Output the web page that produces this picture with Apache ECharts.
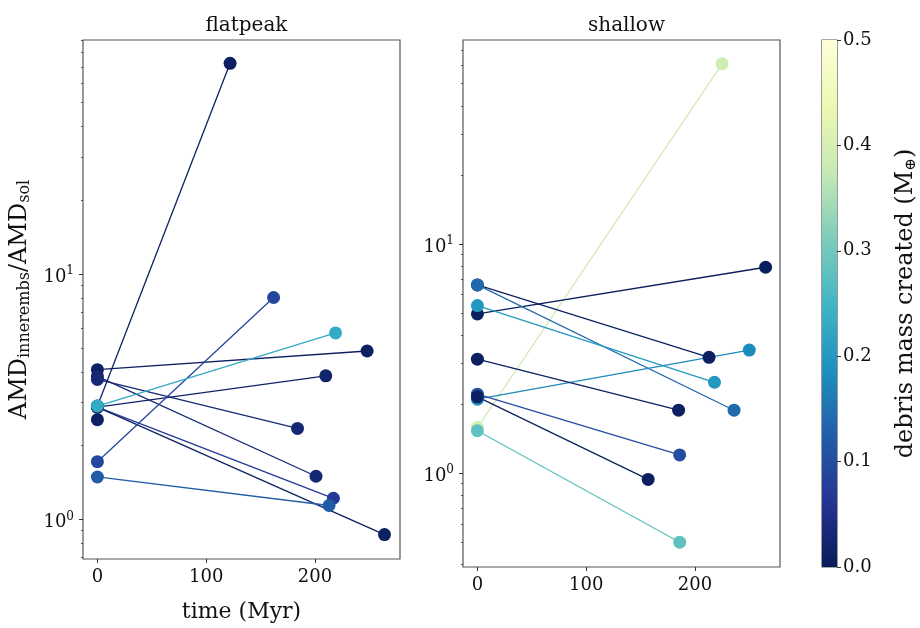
<!DOCTYPE html>
<html>
<head>
<meta charset="utf-8">
<style>html,body{margin:0;padding:0;background:#fff}#c{width:920px;height:628px}</style>
<script src="https://cdn.jsdelivr.net/npm/echarts@6/dist/echarts.min.js"></script>
</head>
<body>
<div id="c"></div>
<script>
// ---- data ----
// flatpeak panel: each run starts at time 0 and ends at endTime
const flatStartAMD = [4.08, 3.83, 3.72, 2.90, 2.87, 2.87, 2.87, 1.72, 1.49, 2.55, 2.90];
const flatEndTime  = [248, 201, 184, 122, 210, 217, 264, 162, 213, null, 219];
const flatEndAMD   = [4.86, 1.50, 2.35, 72.3, 3.85, 1.22, 0.868, 8.03, 1.14, null, 5.76];
const flatDebris   = [0.01, 0.03, 0.03, 0.01, 0.02, 0.07, 0.01, 0.09, 0.12, 0.01, 0.23];

// shallow panel
const shalStartAMD = [1.58, 4.95, 6.62, 6.62, 5.38, 2.10, 3.14, 2.21, 2.15, 1.53];
const shalEndTime  = [225, 265, 213, 236, 218, 250, 185, 186, 157, 186];
const shalEndAMD   = [61.1, 7.91, 3.20, 1.88, 2.49, 3.44, 1.88, 1.20, 0.938, 0.499];
const shalDebris   = [0.39, 0.005, 0.01, 0.14, 0.20, 0.18, 0.01, 0.10, 0.01, 0.28];

const startTime = 0;
const xTicks = [0, 100, 200];
const yMajor = [1, 10];
const flatMinor = [0.7, 0.8, 0.9, 2, 3, 4, 5, 6, 7, 8, 9, 20, 30, 40, 50, 60, 70, 80, 90];
const shalMinor = [0.4, 0.5, 0.6, 0.7, 0.8, 0.9, 2, 3, 4, 5, 6, 7, 8, 9, 20, 30, 40, 50, 60, 70];
const debrisMax = 0.5;

// YlGnBu reversed colormap stops
const cmap = ['#081d58','#253494','#225ea8','#1d91c0','#41b6c4','#7fcdbb','#c7e9b4','#edf8b1','#ffffd9'];

function hexToRgb(h){return [parseInt(h.slice(1,3),16),parseInt(h.slice(3,5),16),parseInt(h.slice(5,7),16)];}
function colorFor(v){
  let t = Math.max(0, Math.min(1, v / debrisMax)) * (cmap.length - 1);
  const i = Math.min(cmap.length - 2, Math.floor(t));
  const f = t - i;
  const a = hexToRgb(cmap[i]), b = hexToRgb(cmap[i+1]);
  const c = a.map((x, k) => Math.round(x + (b[k] - x) * f));
  return 'rgb(' + c.join(',') + ')';
}

const FONT = 'DejaVu Serif';
const TXT = '#111';

function supFmt(v){
  const e = Math.round(Math.log10(v));
  return '{b|10}{s|' + e + '}';
}
const supRich = {
  b: {fontFamily: FONT, fontSize: 18, color: TXT, padding: [6,0,0,0]},
  s: {fontFamily: FONT, fontSize: 12, color: TXT, padding: [0,0,6,0]}
};

function mainY(gridIndex, min, max){
  return {
    type: 'log', logBase: 10, gridIndex, min, max, position: 'left',
    axisLine: {show: false, onZero: false},
    splitLine: {show: false},
    axisTick: {show: true, length: 4, lineStyle: {color: '#333', width: 1}, customValues: yMajor},
    axisLabel: {show: true, margin: 9, customValues: yMajor, formatter: supFmt, rich: supRich}
  };
}
function minorY(gridIndex, min, max, vals){
  return {
    type: 'log', logBase: 10, gridIndex, min, max, position: 'left',
    axisLine: {show: false, onZero: false},
    splitLine: {show: false},
    axisTick: {show: true, length: 2, lineStyle: {color: '#333', width: 0.8}, customValues: vals},
    axisLabel: {show: false}
  };
}
function mainX(gridIndex, name){
  return {
    type: 'value', gridIndex, min: -13.25, max: 278.25,
    axisLine: {show: false, onZero: false},
    splitLine: {show: false},
    axisTick: {show: true, length: 4, lineStyle: {color: '#333', width: 1}, customValues: xTicks},
    axisLabel: {show: true, margin: 9, customValues: xTicks, fontFamily: FONT, fontSize: 18, color: TXT},
    name: name, nameLocation: 'middle', nameGap: 42,
    nameTextStyle: {fontFamily: FONT, fontSize: 22, color: TXT}
  };
}

function runSeries(startArr, endT, endA, debris, xi, yi){
  const out = [];
  for (let i = 0; i < startArr.length; i++){
    const col = colorFor(debris[i]);
    const pts = [[startTime, startArr[i], debris[i]]];
    if (endT[i] !== null) pts.push([endT[i], endA[i], debris[i]]);
    out.push({
      type: 'line', xAxisIndex: xi, yAxisIndex: yi,
      data: pts, symbol: 'circle', symbolSize: 13, showSymbol: true,
      lineStyle: {color: col, width: 1.3},
      itemStyle: {color: col},
      silent: true, animation: false
    });
  }
  return out;
}

const grids = [
  {left: 83, top: 40, width: 317, height: 527, show: true, borderColor: '#555', borderWidth: 1.2, backgroundColor: 'transparent'},
  {left: 463, top: 40, width: 317, height: 527, show: true, borderColor: '#555', borderWidth: 1.2, backgroundColor: 'transparent'},
  {left: 822, top: 40, width: 29, height: 527, show: true, borderColor: '#555', borderWidth: 1.2, backgroundColor: 'transparent'}
];

const cbarStops = cmap.map((c, i) => ({offset: i / (cmap.length - 1), color: c}));

const option = {
  backgroundColor: '#fff',
  animation: false,
  title: [
    {text: 'flatpeak', left: 241.5, top: 11, textAlign: 'center', textStyle: {fontFamily: FONT, fontSize: 20, fontWeight: 'normal', color: TXT}},
    {text: 'shallow', left: 621.5, top: 11, textAlign: 'center', textStyle: {fontFamily: FONT, fontSize: 20, fontWeight: 'normal', color: TXT}}
  ],
  grid: grids,
  xAxis: [
    mainX(0, 'time (Myr)'),
    mainX(1, ''),
    {type: 'category', gridIndex: 2, data: ['c'], show: false}
  ],
  yAxis: [
    Object.assign(mainY(0, 0.69, 90), {
      name: '{a|AMD}{s|innerembs}{a|/AMD}{s|sol}', nameLocation: 'middle', nameGap: 50, nameRotate: 90,
      nameTextStyle: {rich: {
        a: {fontFamily: FONT, fontSize: 24, color: TXT},
        s: {fontFamily: FONT, fontSize: 16, color: TXT, padding: [10,0,0,0]}
      }}
    }),
    minorY(0, 0.69, 90, flatMinor),
    mainY(1, 0.389, 77.6),
    minorY(1, 0.389, 77.6, shalMinor),
    {
      type: 'value', gridIndex: 2, min: 0, max: debrisMax, interval: 0.1, position: 'right',
      axisLine: {show: false, onZero: false}, splitLine: {show: false},
      axisTick: {show: true, length: 4, lineStyle: {color: '#333', width: 1}},
      axisLabel: {show: true, margin: 6, fontFamily: FONT, fontSize: 18, color: TXT, formatter: v => v.toFixed(1)},
      name: '{a|debris mass created (M}{s|⊕}{a|)}', nameLocation: 'middle', nameGap: 56, nameRotate: 90,
      nameTextStyle: {rich: {
        a: {fontFamily: FONT, fontSize: 24, color: TXT},
        s: {fontFamily: FONT, fontSize: 15, color: TXT, padding: [11,0,0,0]}
      }}
    }
  ],
  series: [
    ...runSeries(flatStartAMD, flatEndTime, flatEndAMD, flatDebris, 0, 0),
    ...runSeries(shalStartAMD, shalEndTime, shalEndAMD, shalDebris, 1, 2),
    {
      type: 'bar', xAxisIndex: 2, yAxisIndex: 4, data: [debrisMax], barWidth: '100%',
      silent: true,
      itemStyle: {color: {type: 'linear', x: 0, y: 1, x2: 0, y2: 0, colorStops: cbarStops}}
    }
  ]
};

const chart = echarts.init(document.getElementById('c'), null, {renderer: 'canvas'});
chart.setOption(option);
</script>
</body>
</html>
